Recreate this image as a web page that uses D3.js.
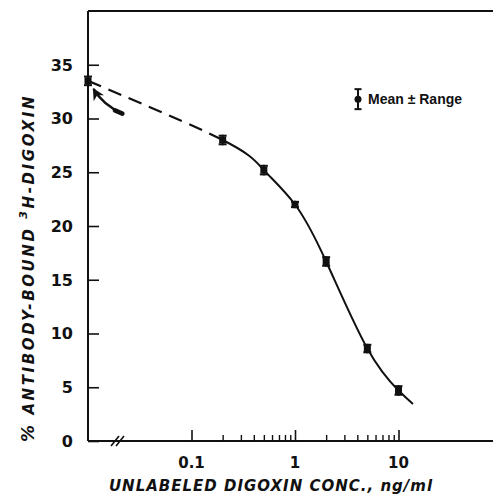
<!DOCTYPE html>
<html>
<head>
<meta charset="utf-8">
<script src="https://cdn.jsdelivr.net/npm/d3@7"></script>
<style>
  body { margin: 0; background: #fff; }
  svg { display: block; font-family: "DejaVu Sans", sans-serif; }
  .axis-title { font-style: italic; font-weight: bold; fill: #111; }
  .tick-label { font-weight: bold; fill: #111; }
</style>
</head>
<body>
<div id="chart"></div>
<script>
// data
var zeroDose = 0.01;            // "no unlabeled digoxin" point, drawn at the broken axis
var zeroMean = 33.5;
var concentrations = [0.2, 0.5, 1, 2, 5, 10];
var means = [28.0, 25.2, 22.0, 16.7, 8.6, 4.7];
var ranges = [0.4, 0.4, 0.25, 0.4, 0.35, 0.4];
var curveEnd = {x: 13.8, y: 3.45};
var yTicks = [0, 5, 10, 15, 20, 25, 30, 35];
var xMajorTicks = [0.1, 1, 10];
var xMinorTicks = [0.2, 0.3, 0.4, 0.5, 0.6, 0.7, 0.8, 0.9, 2, 3, 4, 5, 6, 7, 8, 9];

var margin = {top: 11, right: 0, bottom: 57, left: 88};
var W = 493, H = 498;
var width = W - margin.left - margin.right;
var height = H - margin.top - margin.bottom;

var xScale = d3.scaleLog()
    .domain([0.01, 10])
    .range([0, 310.5]);

var yScale = d3.scaleLinear()
    .domain([0, 40])
    .range([height, 0]);

var svg = d3.select("#chart").append("svg")
    .attr("width", W)
    .attr("height", H);

var g = svg.append("g")
    .attr("transform", "translate(" + margin.left + "," + margin.top + ")");

// frame: top, left, bottom
g.append("line").attr("x1", 0).attr("x2", width).attr("y1", 0).attr("y2", 0)
    .attr("stroke", "#111").attr("stroke-width", 2);
g.append("line").attr("x1", 0).attr("x2", width).attr("y1", height).attr("y2", height)
    .attr("stroke", "#111").attr("stroke-width", 2);
g.append("line").attr("x1", 0).attr("x2", 0).attr("y1", 0).attr("y2", height)
    .attr("stroke", "#111").attr("stroke-width", 2);

// y axis ticks (inside)
var yAxis = d3.axisRight(yScale)
    .tickValues(yTicks)
    .tickSize(11)
    .tickFormat("");
g.append("g").call(yAxis)
    .call(function(s) { s.select(".domain").remove(); })
    .selectAll("line").attr("stroke", "#111").attr("stroke-width", 1.6);

g.selectAll(".ylab")
    .data(yTicks)
  .enter().append("text")
    .attr("class", "tick-label")
    .attr("x", -15)
    .attr("y", function(d) { return yScale(d); })
    .attr("dy", "0.36em")
    .attr("text-anchor", "end")
    .attr("font-size", 16)
    .text(function(d) { return d; });

// x axis ticks (inside, log)
var xAxisMajor = d3.axisTop(xScale)
    .tickValues(xMajorTicks)
    .tickSize(11)
    .tickFormat("");
g.append("g")
    .attr("transform", "translate(0," + height + ")")
    .call(xAxisMajor)
    .call(function(s) { s.select(".domain").remove(); })
    .selectAll("line").attr("stroke", "#111").attr("stroke-width", 1.6);

var xAxisMinor = d3.axisTop(xScale)
    .tickValues(xMinorTicks)
    .tickSize(6)
    .tickFormat("");
g.append("g")
    .attr("transform", "translate(0," + height + ")")
    .call(xAxisMinor)
    .call(function(s) { s.select(".domain").remove(); })
    .selectAll("line").attr("stroke", "#111").attr("stroke-width", 1.4);

g.selectAll(".xlab")
    .data(xMajorTicks)
  .enter().append("text")
    .attr("class", "tick-label")
    .attr("x", function(d) { return xScale(d); })
    .attr("y", height + 27)
    .attr("text-anchor", "middle")
    .attr("font-size", 15)
    .text(function(d) { return d; });

// axis break marks
var breakX = xScale(0.0195);
[-3, 2].forEach(function(off) {
  g.append("line")
      .attr("x1", breakX + off - 4).attr("y1", height + 5)
      .attr("x2", breakX + off + 4).attr("y2", height - 5)
      .attr("stroke", "#111").attr("stroke-width", 1.6);
});

// fitted curve through all points
var curvePts = [{x: zeroDose, y: zeroMean}];
concentrations.forEach(function(c, i) { curvePts.push({x: c, y: means[i]}); });
curvePts.push(curveEnd);

var line = d3.line()
    .x(function(d) { return xScale(d.x); })
    .y(function(d) { return yScale(d.y); })
    .curve(d3.curveNatural);

var defs = svg.append("defs");
defs.append("clipPath").attr("id", "clipDash")
  .append("rect").attr("x", -5).attr("y", -5)
    .attr("width", xScale(concentrations[0]) + 5).attr("height", height + 10);
defs.append("clipPath").attr("id", "clipSolid")
  .append("rect").attr("x", xScale(concentrations[0])).attr("y", -5)
    .attr("width", width).attr("height", height + 10);

g.append("path")
    .datum(curvePts)
    .attr("d", line)
    .attr("fill", "none")
    .attr("stroke", "#111")
    .attr("stroke-width", 2.2)
    .attr("stroke-dasharray", "14,8")
    .attr("clip-path", "url(#clipDash)");

g.append("path")
    .datum(curvePts)
    .attr("d", line)
    .attr("fill", "none")
    .attr("stroke", "#111")
    .attr("stroke-width", 2)
    .attr("clip-path", "url(#clipSolid)");

// error bars and markers
var pts = concentrations.map(function(c, i) { return {x: c, y: means[i], r: ranges[i]}; });
pts.unshift({x: zeroDose, y: zeroMean, r: 0.4});

var eb = g.selectAll(".eb").data(pts).enter().append("g");
eb.append("line")
    .attr("x1", function(d) { return xScale(d.x); })
    .attr("x2", function(d) { return xScale(d.x); })
    .attr("y1", function(d) { return yScale(d.y - d.r) + 1; })
    .attr("y2", function(d) { return yScale(d.y + d.r) - 1; })
    .attr("stroke", "#111").attr("stroke-width", 2);
eb.selectAll(".cap")
    .data(function(d) { return [{x: d.x, y: d.y - d.r}, {x: d.x, y: d.y + d.r}]; })
  .enter().append("line")
    .attr("x1", function(d) { return xScale(d.x) - 4; })
    .attr("x2", function(d) { return xScale(d.x) + 4; })
    .attr("y1", function(d) { return yScale(d.y); })
    .attr("y2", function(d) { return yScale(d.y); })
    .attr("stroke", "#111").attr("stroke-width", 2);
eb.append("rect")
    .attr("x", function(d) { return xScale(d.x) - 3.5; })
    .attr("y", function(d) { return yScale(d.y) - 3.5; })
    .attr("width", 7).attr("height", 7)
    .attr("fill", "#111");

// annotation arrow pointing to the zero-dose point
defs.append("marker")
    .attr("id", "arrowHead")
    .attr("viewBox", "0 0 10 10")
    .attr("refX", 9).attr("refY", 5)
    .attr("markerWidth", 5).attr("markerHeight", 5)
    .attr("orient", "auto")
  .append("path")
    .attr("d", "M0,0 L10,5 L0,10 L3,5 Z")
    .attr("fill", "#111");

var arrowTail = {x: 0.0215, y: 30.45};
var arrowCtrl = {x: 0.0138, y: 31.3};
var arrowHead = {x: 0.0113, y: 32.75};
var arrowPath = "M" + xScale(arrowTail.x) + "," + yScale(arrowTail.y) +
               " Q" + xScale(arrowCtrl.x) + "," + yScale(arrowCtrl.y) +
               " " + xScale(arrowHead.x) + "," + yScale(arrowHead.y);
g.append("path")
    .attr("d", arrowPath)
    .attr("fill", "none")
    .attr("stroke", "#111")
    .attr("stroke-width", 2.4)
    .attr("marker-end", "url(#arrowHead)");
// thick tail of the hand-drawn arrow
var tailMid = {x: 0.0182, y: 30.75};
g.append("line")
    .attr("x1", xScale(arrowTail.x)).attr("y1", yScale(arrowTail.y))
    .attr("x2", xScale(tailMid.x)).attr("y2", yScale(tailMid.y))
    .attr("stroke", "#111").attr("stroke-width", 4.5)
    .attr("stroke-linecap", "round");

// legend
var lg = g.append("g").attr("transform", "translate(270," + yScale(31.8) + ")");
lg.append("line").attr("x1", 0).attr("x2", 0).attr("y1", -10).attr("y2", 10)
    .attr("stroke", "#111").attr("stroke-width", 2);
lg.append("line").attr("x1", -3.5).attr("x2", 3.5).attr("y1", -10).attr("y2", -10)
    .attr("stroke", "#111").attr("stroke-width", 2);
lg.append("line").attr("x1", -3.5).attr("x2", 3.5).attr("y1", 10).attr("y2", 10)
    .attr("stroke", "#111").attr("stroke-width", 2);
lg.append("circle").attr("cx", 0).attr("cy", 0).attr("r", 3.5).attr("fill", "#111");
lg.append("text")
    .attr("x", 10).attr("y", 5)
    .attr("font-size", 14)
    .attr("font-weight", "bold")
    .attr("font-family", "'Liberation Sans', Arial, sans-serif")
    .attr("fill", "#111")
    .text("Mean \u00b1 Range");

// axis titles
svg.append("text")
    .attr("class", "axis-title")
    .attr("x", margin.left + 183)
    .attr("y", 491)
    .attr("text-anchor", "middle")
    .attr("font-size", 15)
    .attr("letter-spacing", 1.0)
    .text("UNLABELED DIGOXIN CONC., ng/ml");

var yt = svg.append("text")
    .attr("class", "axis-title")
    .attr("transform", "translate(34,268) rotate(-90)")
    .attr("text-anchor", "middle")
    .attr("font-size", 15)
    .attr("letter-spacing", 2.6);
yt.append("tspan").attr("font-size", 17).text("%");
yt.append("tspan").text(" ANTIBODY-BOUND ");
yt.append("tspan").attr("dy", -7).attr("font-size", 11).text("3");
yt.append("tspan").attr("dy", 7).text("H-DIGOXIN");
</script>
</body>
</html>
